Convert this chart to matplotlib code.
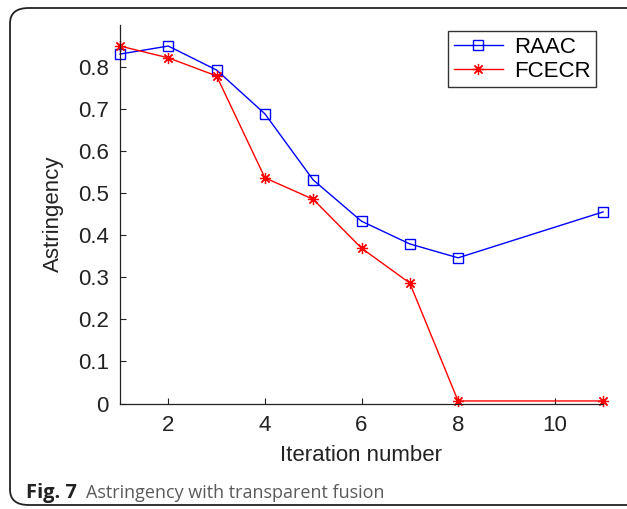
import matplotlib
matplotlib.use("Agg")
import matplotlib.pyplot as plt
from matplotlib.patches import FancyBboxPatch

# values
iterations = [1, 2, 3, 4, 5, 6, 7, 8, 11]
raac = [0.830, 0.849, 0.792, 0.688, 0.531, 0.433, 0.379, 0.346, 0.455]
fcecr = [0.849, 0.821, 0.778, 0.536, 0.485, 0.369, 0.286, 0.006, 0.006]
yticks = [0, 0.1, 0.2, 0.3, 0.4, 0.5, 0.6, 0.7, 0.8]
xticks = [2, 4, 6, 8, 10]


def main():
    plt.rcParams["font.family"] = ["Liberation Sans", "DejaVu Sans"]

    fig = plt.figure(figsize=(6.27, 5.09), dpi=100)

    # rounded frame around the figure panel
    frame = FancyBboxPatch(
        (10 / 627, 4 / 509), 640 / 627, 497 / 509,
        boxstyle="round,pad=0,rounding_size=0.03",
        transform=fig.transFigure, facecolor="none",
        edgecolor="#222222", linewidth=1.3, clip_on=False, zorder=-1,
    )
    fig.patches.append(frame)

    ax = fig.add_axes([120 / 627, 1 - 403.5 / 509, 483 / 627, 378.5 / 509])
    ax.set_facecolor("none")

    ax.plot(iterations, raac, color="blue", linewidth=1.0, marker="s",
            markersize=7, markerfacecolor="none", markeredgecolor="blue",
            markeredgewidth=1.0, label="RAAC", clip_on=False)
    ax.plot(iterations, fcecr, color="red", linewidth=1.0, marker=(8, 2, 0),
            markersize=8, markeredgecolor="red", markeredgewidth=0.9,
            label="FCECR", clip_on=False)

    ax.set_xlim(1, 11)
    ax.set_ylim(0, 0.899)
    ax.set_xticks(xticks)
    ax.set_yticks(yticks)
    ax.set_yticklabels([f"{v:g}" for v in yticks])

    for side in ("top", "right"):
        ax.spines[side].set_visible(False)
    for side in ("left", "bottom"):
        ax.spines[side].set_color("#222222")
        ax.spines[side].set_linewidth(0.9)
    ax.tick_params(direction="in", length=4, width=0.8, labelsize=16,
                   colors="#222222", pad=8)

    ax.set_xlabel("Iteration number", fontsize=16, color="#222222", labelpad=7)
    ax.set_ylabel("Astringency", fontsize=16, color="#222222", labelpad=10)

    leg = ax.legend(loc="upper right", bbox_to_anchor=(596 / 627, 1 - 31 / 509),
                    bbox_transform=fig.transFigure, fontsize=16,
                    frameon=True, fancybox=False, handlelength=2.2,
                    handletextpad=0.5, borderpad=0.25, labelspacing=0.15,
                    borderaxespad=0)
    leg.get_frame().set_edgecolor("black")
    leg.get_frame().set_linewidth(1.0)

    fig.text(26 / 627, 1 - 498 / 509, "Fig. 7", fontsize=14.5, fontweight="bold",
             family=["Open Sans", "DejaVu Sans"], color="#222222")
    fig.text(86 / 627, 1 - 498 / 509, "Astringency with transparent fusion",
             fontsize=13, family=["Open Sans", "DejaVu Sans"], color="#5a5a5a")

    fig.savefig("out.png", dpi=100)


if __name__ == "__main__":
    main()
